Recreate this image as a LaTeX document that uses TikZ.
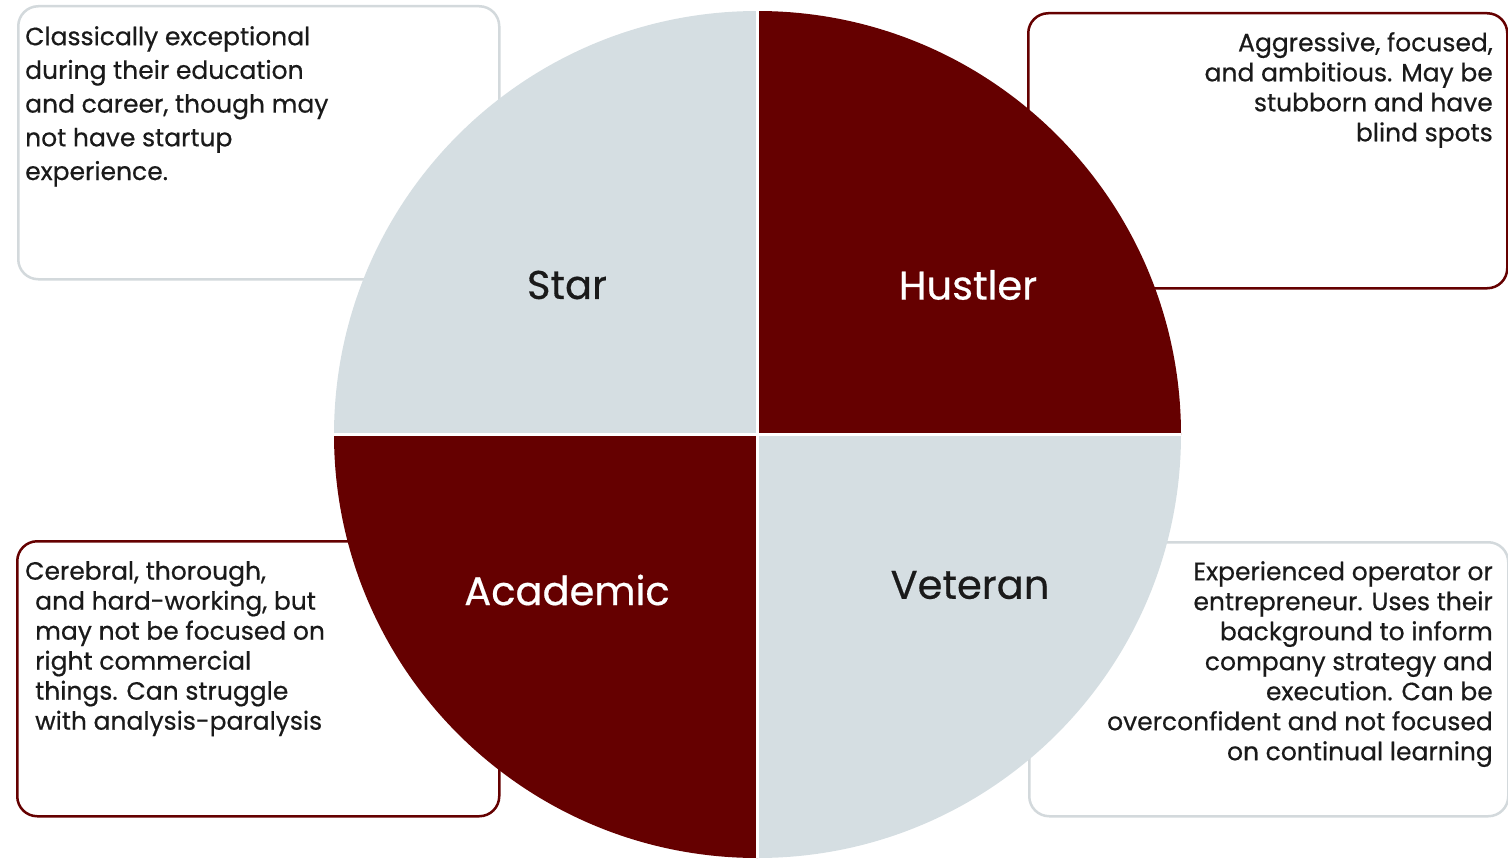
\documentclass[tikz,border=0pt]{standalone}
\usepackage{fontspec}
\setmainfont{Poppins}[UprightFeatures={FakeBold=0.5}]
\definecolor{maroon}{HTML}{650000}
\definecolor{mist}{HTML}{D5DEE2}
\definecolor{rim}{HTML}{D3D9DC}
\definecolor{ink}{HTML}{1A1A1A}
\begin{document}
\begin{tikzpicture}[x=1pt,y=-1pt,
  card/.style={draw, line width=2.5pt, rounded corners=20pt, fill=white,
    inner sep=0pt, anchor=north west},
  body/.style={font=\fontsize{25}{30}\selectfont, inner sep=0pt, text=ink},
  loose/.style={font=\fontsize{25}{33.7}\selectfont},
  quadlabel/.style={font=\fontsize{40}{48}\selectfont, inner sep=0pt}]
\useasboundingbox (0,0) rectangle (1508,859);

% description cards behind the circle
\node[card, draw=rim, minimum width=481, minimum height=273] (starcard) at (17,5) {};
\node[card, draw=maroon, minimum width=479, minimum height=275] (hustlercard) at (1027,12) {};
\node[card, draw=maroon, minimum width=482, minimum height=275] (academiccard) at (16,540) {};
\node[card, draw=rim, minimum width=479, minimum height=274] (veterancard) at (1028,541) {};

% the four quadrants of the circle, split by thin white gaps
\coordinate (c) at (757.5,434.5);
\begin{scope}
  \clip (c) circle[radius=423.5];
  \fill[mist]   (300,0)       rectangle (757.5,434.5);
  \fill[maroon] (757.5,0)     rectangle (1200,434.5);
  \fill[maroon] (300,434.5)   rectangle (757.5,870);
  \fill[mist]   (757.5,434.5) rectangle (1200,870);
  \draw[white, line width=3pt] (757.5,0) -- (757.5,870);
  \draw[white, line width=3pt] (300,434.5) -- (1200,434.5);
\end{scope}

% quadrant titles
\node[quadlabel, text=ink]   (star)     at (567,285) {Star};
\node[quadlabel, text=white] (hustler)  at (968,285) {Hustler};
\node[quadlabel, text=white] (academic) at (567,590) {Academic};
\node[quadlabel, text=ink]   (veteran)  at (970,585) {Veteran};

% card texts
\node[body, loose, anchor=north west, align=left] (startext) at (25,26)
  {Classically exceptional\\during their education\\and career, though may\\not have startup\\experience.};
\node[body, anchor=north east, align=right] (hustlertext) at (1493,32)
  {Aggressive, focused,\\and ambitious. May be\\stubborn and have\\blind spots};
\node[body, anchor=north west, align=left] (academictext) at (25,561)
  {Cerebral, thorough,\\\hspace*{10pt}and hard-working, but\\\hspace*{10pt}may not be focused on\\\hspace*{10pt}right commercial\\\hspace*{10pt}things. Can struggle\\\hspace*{10pt}with analysis-paralysis};
\node[body, anchor=north east, align=right] (veterantext) at (1493,561)
  {Experienced operator or\\entrepreneur. Uses their\\background to inform\\company strategy and\\execution. Can be\\overconfident and not focused\\on continual learning};
\end{tikzpicture}
\end{document}
